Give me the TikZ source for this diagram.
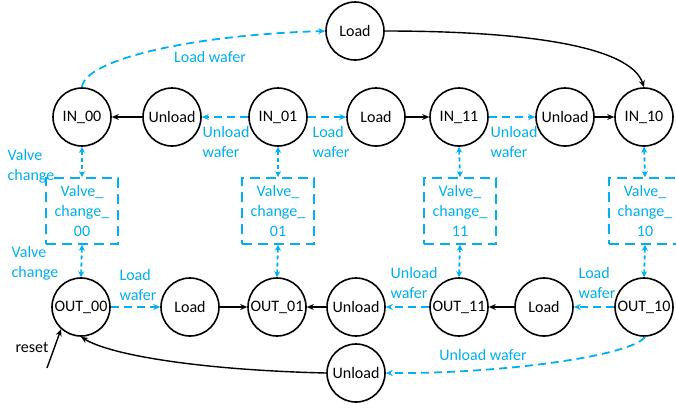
\documentclass[tikz,border=0pt]{standalone}
\usepackage{fontspec}
\setmainfont{Carlito}
\usetikzlibrary{arrows.meta}
\definecolor{flowblue}{RGB}{0,176,240}
\begin{document}
\begin{tikzpicture}[x=1pt,y=-1pt,
  every node/.style={font=\fontsize{16}{20}\selectfont},
  state/.style={circle,draw=black,line width=1.6pt,minimum size=58pt,inner sep=0pt},
  valvebox/.style={draw=flowblue,line width=1.6pt,dash pattern=on 10pt off 6pt,
    minimum width=72pt,minimum height=66pt,inner sep=0pt,align=center,text=flowblue},
  lbl/.style={text=flowblue,align=left,inner sep=0pt},
  solidarrow/.style={draw=black,line width=1.4pt,-{Stealth[length=7pt,width=6pt]}},
  dasharrow/.style={draw=flowblue,line width=1.8pt,dash pattern=on 8pt off 5pt,
    -{Stealth[length=7pt,width=6pt]}},
  vdash/.style={draw=flowblue,line width=1.8pt,dash pattern=on 4pt off 3pt,
    {Stealth[length=6pt,width=6pt]}-{Stealth[length=6pt,width=6pt]}}
]
\clip (0,0) rectangle (676,408);
\fill[white] (0,0) rectangle (676,408);

% top load state
\node[state] (ldtop) at (355,31) {Load};

% IN row
\node[state] (in00) at (82,117) {IN\_00};
\node[state] (un1)  at (172,117) {Unload};
\node[state] (in01) at (278,117) {IN\_01};
\node[state] (ld1)  at (376,117) {Load};
\node[state] (in11) at (459,117) {IN\_11};
\node[state] (un2)  at (565,117) {Unload};
\node[state] (in10) at (644,117) {IN\_10};

% valve change boxes
\node[valvebox] (v00) at (82,211)  {Valve\_\\change\_\\00};
\node[valvebox] (v01) at (278,211) {Valve\_\\change\_\\01};
\node[valvebox] (v11) at (460,211) {Valve\_\\change\_\\11};
\node[valvebox] (v10) at (645,211) {Valve\_\\change\_\\10};

% OUT row
\node[state] (out00) at (81,307) {OUT\_00};
\node[state] (ld2)   at (190,307) {Load};
\node[state] (out01) at (277,307) {OUT\_01};
\node[state] (un3)   at (356,307) {Unload};
\node[state] (out11) at (459,307) {OUT\_11};
\node[state] (ld3)   at (544,307) {Load};
\node[state] (out10) at (644,307) {OUT\_10};

% bottom unload state
\node[state] (unbot) at (356,373) {Unload};

% reset entry
\coordinate (rs) at (47,368);
\node[inner sep=0pt] (rslbl) at (32,347) {reset};

% labels
\node[lbl] (l1) at (210,57) {Load wafer};
\node[lbl] (l2) at (226,142) {Unload\\wafer};
\node[lbl] (l3) at (331,142) {Load\\wafer};
\node[lbl] (l4) at (514,142) {Unload\\wafer};
\node[lbl] (l5) at (31,166) {Valve\\change};
\node[lbl] (l6) at (35,263) {Valve\\change};
\node[lbl] (l7) at (138,285) {Load\\wafer};
\node[lbl] (l8) at (414,283) {Unload\\wafer};
\node[lbl] (l9) at (597,283) {Load\\wafer};
\node[lbl] (l10) at (483,355) {Unload wafer};

% top row transitions
\draw[dasharrow] (in00.north) .. controls (84,60) and (190,35) .. (ldtop.west);
\draw[solidarrow] (ldtop.east) .. controls (520,31) and (630,45) .. (in10.north);
\draw[solidarrow] (un1) -- (in00);
\draw[dasharrow] (in01) -- (un1);
\draw[dasharrow] (in01) -- (ld1);
\draw[solidarrow] (ld1) -- (in11);
\draw[dasharrow] (in11) -- (un2);
\draw[solidarrow] (un2) -- (in10);

% valve change links
\foreach \a/\b/\c in {in00/v00/out00, in01/v01/out01, in11/v11/out11, in10/v10/out10}{
  \draw[vdash] (\a.south) -- (\b.north);
  \draw[vdash] (\b.south) -- (\c.north);
}

% bottom row transitions
\draw[dasharrow] (out00) -- (ld2);
\draw[solidarrow] (ld2) -- (out01);
\draw[solidarrow] (un3) -- (out01);
\draw[dasharrow] (out11) -- (un3);
\draw[solidarrow] (ld3) -- (out11);
\draw[dasharrow] (out10) -- (ld3);
\draw[dasharrow] (out10.272) .. controls (632,356) and (500,374) .. (unbot.east);
\draw[solidarrow] (unbot.west) .. controls (200,370) and (110,355) .. (out00.south);
\draw[solidarrow] (rs) -- (out00.228);
\end{tikzpicture}
\end{document}
